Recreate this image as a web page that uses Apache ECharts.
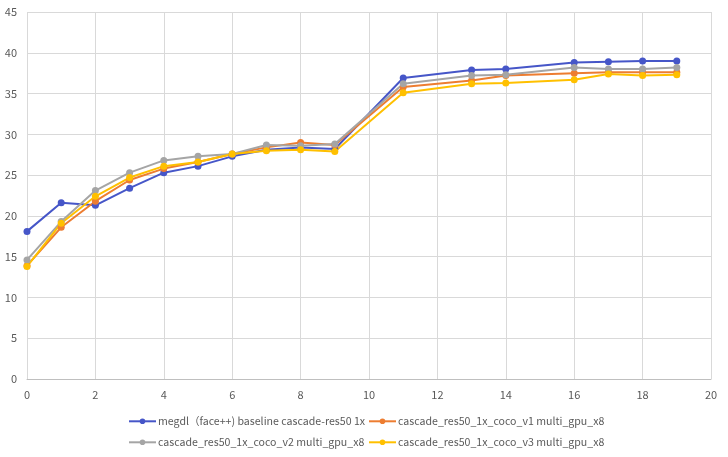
<!DOCTYPE html>
<html><head><meta charset="utf-8">
<script src="https://cdn.jsdelivr.net/npm/echarts@6/dist/echarts.min.js"></script>
<style>html,body{margin:0;padding:0;background:#fff}#c{width:728px;height:457px}</style>
</head><body><div id="c"></div>
<script>
var xs = [0,1,2,3,4,5,6,7,8,9,11,13,14,16,17,18,19];
var names = ['megdl（face++) baseline cascade-res50 1x','cascade_res50_1x_coco_v1 multi_gpu_x8','cascade_res50_1x_coco_v2 multi_gpu_x8','cascade_res50_1x_coco_v3 multi_gpu_x8'];
var megdl = [18.1,21.6,21.3,23.4,25.3,26.1,27.3,28.1,28.4,28.2,36.9,37.9,38.0,38.8,38.9,39.0,39.0];
var v1 =    [13.9,18.6,21.8,24.4,25.8,26.6,27.6,28.4,29.0,28.7,35.8,36.6,37.2,37.5,37.6,37.6,37.6];
var v2 =    [14.6,19.3,23.1,25.3,26.8,27.3,27.6,28.7,28.6,28.8,36.2,37.2,37.3,38.2,38.0,38.0,38.2];
var v3 =    [13.8,19.1,22.4,24.7,26.1,26.6,27.6,28.0,28.1,27.9,35.1,36.2,36.3,36.7,37.4,37.2,37.3];
var colors = ['#4656C8','#ED7D31','#A5A5A5','#FFC000'];
function pairs(v){return xs.map(function(x,i){return [x,v[i]];});}
var all = [megdl,v1,v2,v3];
var series = all.map(function(v,i){
  return {name:names[i],type:'line',data:pairs(v),symbol:'circle',symbolSize:7,
    lineStyle:{width:2,color:colors[i]},itemStyle:{color:colors[i]},emphasis:{disabled:true}};
});
var font = '"Noto Sans CJK SC","Noto Sans",sans-serif';
var legendBase = {orient:'horizontal',itemWidth:27,itemHeight:7,itemGap:4,padding:0,
  textStyle:{color:'#595959',fontSize:10.6,fontFamily:font,padding:[0,0,0,-3]}};
var pos = [[128,416],[368,416],[128,437],[368,437]];
var legends = names.map(function(n,i){
  return Object.assign({},legendBase,{data:[n],left:pos[i][0],top:pos[i][1]});
});
var chart = echarts.init(document.getElementById('c'));
chart.setOption({
  animation:false,
  color:colors,
  grid:{left:27,right:17,top:12,bottom:78},
  legend:legends,
  xAxis:{type:'value',min:0,max:20,interval:2,
    axisLine:{show:true,lineStyle:{color:'#BFBFBF'}},axisTick:{show:false},
    axisLabel:{color:'#595959',fontSize:11,fontFamily:font,margin:10},
    splitLine:{show:true,lineStyle:{color:'#D9D9D9'}}},
  yAxis:{type:'value',min:0,max:45,interval:5,
    axisLine:{show:false},axisTick:{show:false},
    axisLabel:{color:'#595959',fontSize:11,fontFamily:font,margin:10},
    splitLine:{show:true,lineStyle:{color:'#D9D9D9'}}},
  series:series
});
</script></body></html>
